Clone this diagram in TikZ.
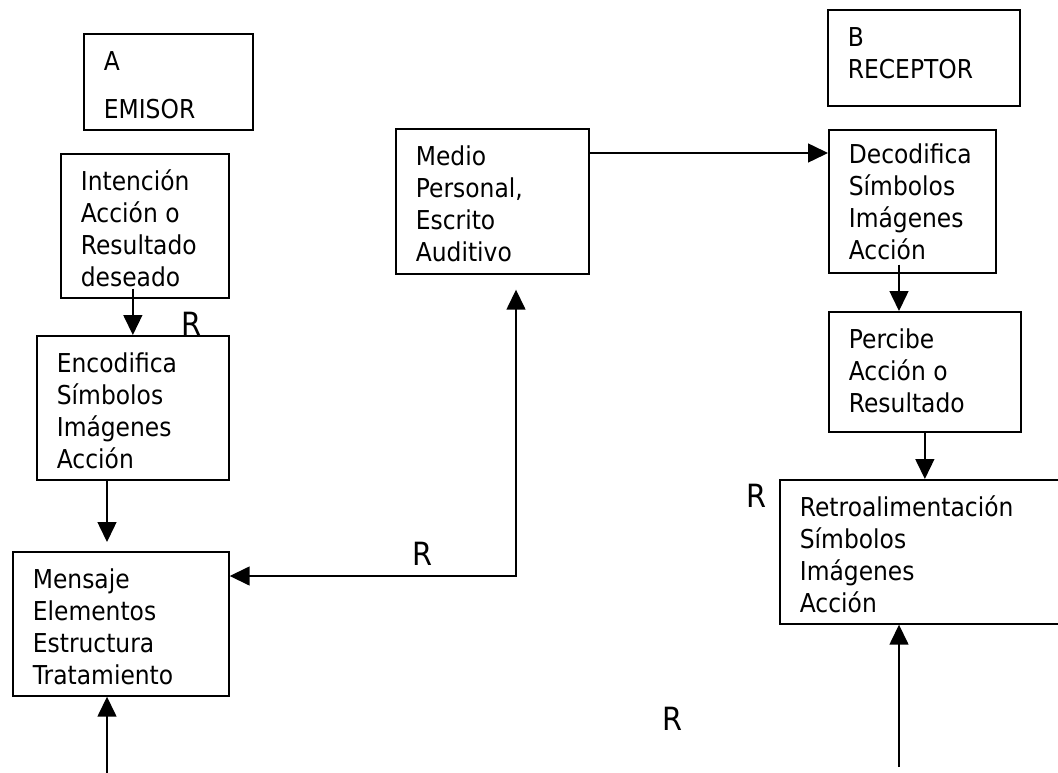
\documentclass[tikz,border=0pt]{standalone}
\usepackage{fontspec}
\setmainfont{DejaVu Sans}[FakeStretch=0.9]
\usetikzlibrary{arrows.meta,calc}

\begin{document}
\begin{tikzpicture}[x=1pt,y=-1pt,
  box/.style={draw, line width=1.7pt, inner xsep=20pt, inner ysep=0pt,
    anchor=north west, font=\fontsize{26}{32}\selectfont, text height=37pt},
  arr/.style={line width=1.5pt, -{Triangle[length=20pt,width=19pt]}},
  rlab/.style={anchor=base west, inner sep=0pt, font=\fontsize{32}{32}\selectfont}]

\useasboundingbox (0,0) rectangle (1058,773);
\fill[white] (0,0) rectangle (1058,773);
\clip (0,0) rectangle (1058,773);

% emisor side
\node[box, text depth=59pt] (emisor) at (83,33)
  {\parbox[t]{129pt}{A\\[16pt]EMISOR}};
\node[box, text depth=107pt] (int) at (60,153)
  {\parbox[t]{128pt}{Intención\\Acción o\\Resultado\\deseado}};
\node[box, text depth=107pt] (enc) at (36,335)
  {\parbox[t]{152pt}{Encodifica\\Símbolos\\Imágenes\\Acción}};
\node[box, text depth=107pt] (msg) at (12,551)
  {\parbox[t]{176pt}{Mensaje\\Elementos\\Estructura\\Tratamiento}};

% channel
\node[box, text depth=108pt] (medio) at (395,128)
  {\parbox[t]{153pt}{Medio\\Personal,\\Escrito\\Auditivo}};

% receptor side
\node[box, text depth=59pt] (receptor) at (827,9)
  {\parbox[t]{152pt}{B\\RECEPTOR}};
\node[box, text height=34pt, text depth=109pt] (dec) at (828,129)
  {\parbox[t]{127pt}{Decodifica\\Símbolos\\Imágenes\\Acción}};
\node[box, text depth=83pt] (per) at (828,311)
  {\parbox[t]{152pt}{Percibe\\Acción o\\Resultado}};
\node[box, text depth=107pt] (retro) at (779,479)
  {\parbox[t]{250pt}{Retroalimentación\\Símbolos\\Imágenes\\Acción}};

% R marks
\node[rlab] (r1) at (181,335) {R};
\node[rlab] (r2) at (412,565) {R};
\node[rlab] (r3) at (746,507) {R};
\node[rlab] (r4) at (662,730) {R};

% helper points
\coordinate (lcol) at (107,0);
\coordinate (rcol) at (899,0);
\coordinate (turn) at (516,576);
\coordinate (inlet) at ($(dec.north west)+(0,24)$);
\coordinate (feedL) at (107,775);
\coordinate (feedR) at (899,767);

% connectors
\draw[arr] ([yshift=10pt]int.south -| enc.north) -- (enc.north);
\draw[arr, shorten >=9pt] (enc.south -| lcol) -- (msg.north -| lcol);
\draw[arr] (feedL) -- (msg.south -| feedL);
\draw[line width=1.5pt, {Triangle[length=20pt,width=19pt]}-{Triangle[length=20pt,width=19pt]}, shorten >=15pt]
  (msg.east |- turn) -- (turn) -- (turn |- medio.south);
\draw[arr] (medio.east |- inlet) -- (inlet);
\draw[arr] ([yshift=9pt]dec.south -| rcol) -- (per.north -| rcol);
\draw[arr] (per.south) -- (retro.north -| per.south);
\draw[arr] (feedR) -- (retro.south -| feedR);
\end{tikzpicture}
\end{document}
